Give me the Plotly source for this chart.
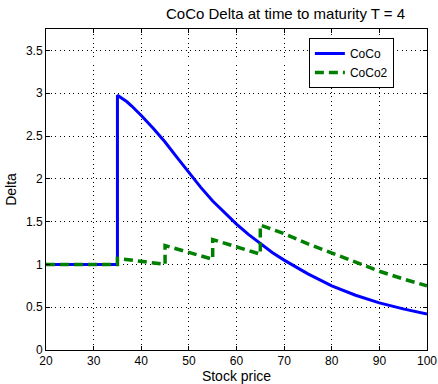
import plotly.graph_objects as go

# CoCo (solid blue)
coco_x = [20, 35, 35, 36, 37, 38, 40, 42.5, 45, 47.5, 50, 52.5, 55, 57.5, 60, 62.5, 65, 67.5, 70, 75, 80, 85, 90, 95, 100]
coco_y = [1.0, 1.0, 2.975, 2.94, 2.90, 2.85, 2.74, 2.59, 2.43, 2.25, 2.07, 1.9, 1.74, 1.6, 1.47, 1.35, 1.24, 1.14, 1.05, 0.89, 0.75, 0.64, 0.55, 0.48, 0.42]

# CoCo2 (dashed green)
coco2_x = [20, 35, 35, 40, 45, 45, 50, 55, 55, 60, 65, 65, 70, 75, 80, 85, 90, 95, 100]
coco2_y = [1.0, 1.0, 1.07, 1.04, 1.0, 1.22, 1.14, 1.06, 1.29, 1.21, 1.12, 1.46, 1.36, 1.24, 1.13, 1.02, 0.92, 0.83, 0.75]

x_ticks = [20, 30, 40, 50, 60, 70, 80, 90, 100]
y_ticks = [0, 0.5, 1, 1.5, 2, 2.5, 3, 3.5]

font = "Liberation Sans, Arial, sans-serif"

fig = go.Figure()
fig.add_trace(go.Scatter(x=coco_x, y=coco_y, mode="lines", name="CoCo",
                         line=dict(color="#0000ff", width=3, shape="linear")))
fig.add_trace(go.Scatter(x=coco2_x, y=coco2_y, mode="lines", name="CoCo2",
                         line=dict(color="#008000", width=3.5, dash="9px,5px")))

axis_common = dict(
    showline=True, linecolor="#000000", linewidth=1, mirror="ticks",
    ticks="inside", ticklen=4, tickcolor="#000000",
    showgrid=True, gridcolor="#000000", gridwidth=1, griddash="1px,3.5px",
    zeroline=False, automargin=False,
    tickfont=dict(family=font, size=12, color="#000000"),
)

fig.update_xaxes(range=[20, 100], tickvals=x_ticks,
                 title=dict(text="Stock price", font=dict(family=font, size=14, color="#000"), standoff=0),
                 **axis_common)
fig.update_yaxes(range=[0, 3.75], tickvals=y_ticks, ticktext=[str(v) for v in y_ticks],
                 title=dict(text="Delta", font=dict(family=font, size=14, color="#000"), standoff=6),
                 **axis_common)

fig.update_layout(
    width=438, height=384,
    margin=dict(l=46, r=11, t=29, b=34, autoexpand=False),
    paper_bgcolor="#ffffff", plot_bgcolor="#ffffff",
    font=dict(family=font, size=12, color="#000000"),
    title=dict(text="CoCo Delta at time to maturity T = 4", x=0.652, xanchor="center",
               y=0.963, yanchor="middle", font=dict(family=font, size=15, color="#000")),
    legend=dict(x=0.69, y=0.972, xanchor="left", yanchor="top",
                bgcolor="#ffffff", bordercolor="#000000", borderwidth=1,
                font=dict(family=font, size=12, color="#000"),
                itemwidth=30, entrywidth=81),
    showlegend=True,
)

fig.write_html("out.html", config={"displayModeBar": False},
               post_script="document.body.style.margin='0px';document.body.style.padding='0px';")
